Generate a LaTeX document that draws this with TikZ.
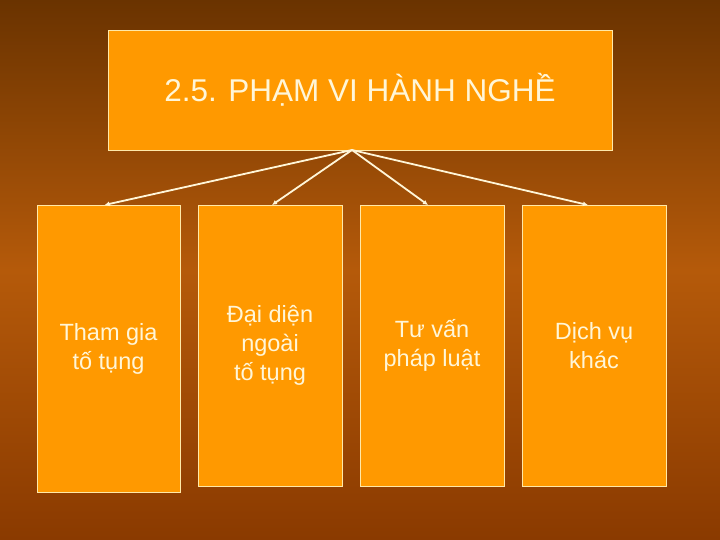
\documentclass[tikz,border=0pt]{standalone}
\usepackage{fontspec}
\setmainfont{Liberation Sans}
\usetikzlibrary{positioning, arrows.meta}
\definecolor{boxorange}{HTML}{FF9900}
\definecolor{boxline}{HTML}{FFE9A8}
\definecolor{textcream}{HTML}{FFF6D8}
\definecolor{bgtop}{HTML}{6A3300}
\definecolor{bgmid}{HTML}{B55A0A}
\definecolor{bgbot}{HTML}{8A3A00}
\tikzset{
	x=1pt, y=-1pt,
	node distance=18pt,
	topic/.style={draw=boxline, line width=0.8pt, fill=boxorange, text=textcream,
		minimum width=504pt, minimum height=120pt, inner sep=0pt, outer sep=0pt,
		font=\fontsize{31.5}{36}\selectfont},
	item/.style={draw=boxline, line width=0.8pt, fill=boxorange, text=textcream,
		minimum width=144pt, minimum height=281pt, inner sep=0pt, outer sep=0pt, align=center,
		font=\fontsize{23.5}{29}\selectfont},
	link/.style={-{Latex[length=5pt, width=5pt]}, draw=textcream, line width=1.8pt},
}
\begin{document}
\begin{tikzpicture}
	% background
	\shade[top color=bgtop, bottom color=bgbot, middle color=bgmid] (0,0) rectangle (720,540);
	\useasboundingbox (0,0) rectangle (720,540);

	\node[topic] (TITLE) at (360,90) {2.5. PHẠM VI HÀNH NGHỀ};
	\coordinate[xshift=-8pt] (HUB) at (TITLE.south);

	\node[item, minimum width=143pt, minimum height=287pt, anchor=north west] (TRIAL) at (37,205) {Tham gia\\tố tụng};
	\node[item, right=18pt of TRIAL.north east, anchor=north west] (AGENT) {Đại diện\\ngoài\\tố tụng};
	\node[item, right=of AGENT.north east, anchor=north west] (ADVICE) {Tư vấn\\pháp luật};
	\node[item, right=of ADVICE.north east, anchor=north west] (OTHER) {Dịch vụ\\khác};

	\draw[link] (HUB) -- ([xshift=-4pt]TRIAL.north);
	\draw[link] (HUB) -- ([xshift=2pt]AGENT.north);
	\draw[link] (HUB) -- ([xshift=-4pt]ADVICE.north);
	\draw[link] (HUB) -- ([xshift=-6pt]OTHER.north);
\end{tikzpicture}
\end{document}
